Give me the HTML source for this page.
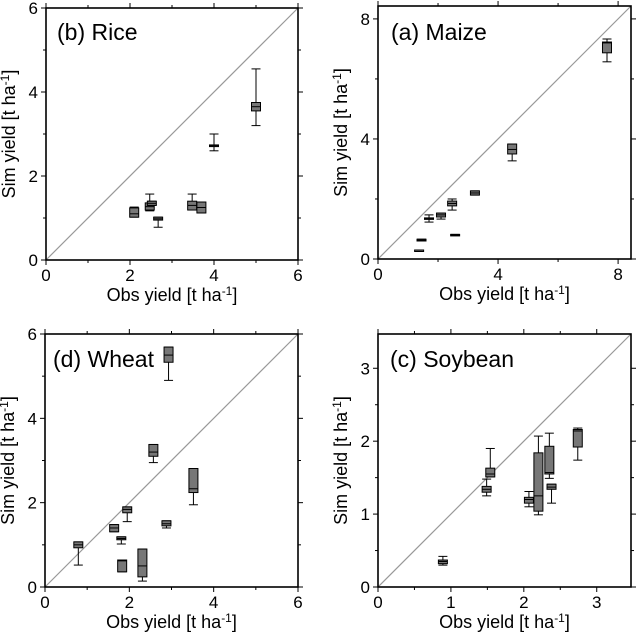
<!DOCTYPE html>
<html><head><meta charset="utf-8"><style>
body{margin:0;background:#fff}
svg{display:block;font-family:"Liberation Sans",sans-serif}
</style></head><body>
<svg id="c" width="638" height="640"></svg>
<script>
// [whiskerLow, q1, median, q3, whiskerHigh] per observation
const riceObs=[2.1,2.47,2.52,2.67,3.48,3.7,4.0,5.0];
const riceStats=[[1.02,1.02,1.1,1.24,1.26],[1.17,1.19,1.27,1.36,1.57],[1.3,1.3,1.35,1.4,1.4],[0.78,0.95,0.98,1.02,1.02],[1.19,1.19,1.3,1.4,1.57],[1.12,1.12,1.25,1.38,1.38],[2.6,2.7,2.72,2.74,3.0],[3.2,3.55,3.65,3.75,4.55]];
const maizeObs=[1.37,1.45,1.7,2.1,2.47,2.57,3.23,4.47,7.63];
const maizeStats=[[0.3,0.3,0.3,0.3,0.3],[0.6,0.6,0.63,0.66,0.66],[1.23,1.33,1.35,1.37,1.47],[1.33,1.4,1.47,1.53,1.53],[1.63,1.77,1.85,1.93,2.0],[0.78,0.78,0.8,0.82,0.82],[2.13,2.13,2.2,2.27,2.27],[3.27,3.5,3.65,3.83,3.83],[6.57,6.87,7.2,7.23,7.33]];
const wheatObs=[0.79,1.64,1.81,1.83,1.95,2.31,2.57,2.88,2.93,3.52];
const wheatStats=[[0.52,0.93,1.0,1.07,1.07],[1.31,1.31,1.4,1.48,1.48],[1.02,1.12,1.15,1.19,1.19],[0.36,0.36,0.62,0.64,0.64],[1.55,1.76,1.84,1.9,1.9],[0.14,0.24,0.5,0.9,0.9],[2.95,3.1,3.2,3.38,3.38],[1.4,1.45,1.5,1.57,1.57],[4.9,5.33,5.5,5.69,5.69],[1.95,2.24,2.33,2.81,2.81]];
const soyObs=[0.89,1.49,1.54,2.07,2.2,2.35,2.38,2.74];
const soyStats=[[0.3,0.32,0.35,0.37,0.42],[1.25,1.3,1.34,1.38,1.48],[1.51,1.51,1.55,1.63,1.9],[1.1,1.15,1.2,1.23,1.31],[0.99,1.04,1.25,1.84,2.07],[1.49,1.55,1.57,1.93,2.11],[1.15,1.34,1.37,1.41,1.41],[1.74,1.92,2.14,2.16,2.18]];

const svg=document.getElementById('c');const NS='http://www.w3.org/2000/svg';
function mk(t,a,p){const e=document.createElementNS(NS,t);for(const k in a)e.setAttribute(k,a[k]);(p||svg).appendChild(e);return e;}
const panels=[
 {name:'rice',title:'(b) Rice',x0:46,y0:260,sz:252,max:6,major:[0,2,4,6],minor:[1,3,5],obs:riceObs,st:riceStats,tx:57,ty:40},
 {name:'maize',title:'(a) Maize',x0:378,y0:259,sz:253,max:8.43,major:[0,4,8],minor:[2,6],obs:maizeObs,st:maizeStats,tx:391,ty:40},
 {name:'wheat',title:'(d) Wheat',x0:45,y0:587,sz:253,max:6,major:[0,2,4,6],minor:[1,3,5],obs:wheatObs,st:wheatStats,tx:53,ty:367},
 {name:'soybean',title:'(c) Soybean',x0:378,y0:587,sz:253,max:3.47,major:[0,1,2,3],minor:[0.5,1.5,2.5],obs:soyObs,st:soyStats,tx:390,ty:367}];
panels.forEach(p=>{
 const g=mk('g',{});
 
 
 const X=v=>p.x0+v/p.max*p.sz, Y=v=>p.y0-v/p.max*p.sz;
 const L=p.x0,R=p.x0+p.sz,T=p.y0-p.sz,B=p.y0;
 const d=mk('line',{x1:L,y1:B,x2:R,y2:T,stroke:'#999','stroke-width':1.2},g);
 
 
 p.obs.forEach((o,i)=>{const s=p.st[i];const cx=X(o),w=4.5;
  const b=mk('g',{},g);
  
  
  mk('line',{x1:cx,x2:cx,y1:Y(s[0]),y2:Y(s[4]),stroke:'#000','stroke-width':1},b);
  mk('line',{x1:cx-w,x2:cx+w,y1:Y(s[0]),y2:Y(s[0]),stroke:'#000','stroke-width':1},b);
  mk('line',{x1:cx-w,x2:cx+w,y1:Y(s[4]),y2:Y(s[4]),stroke:'#000','stroke-width':1},b);
  const h=Math.max(Y(s[1])-Y(s[3]),1.5);
  mk('rect',{x:cx-w,y:Y(s[3]),width:2*w,height:h,fill:'#777',stroke:'#000','stroke-width':1},b);
  mk('line',{x1:cx-w,x2:cx+w,y1:Y(s[2]),y2:Y(s[2]),stroke:'#000','stroke-width':1},b);
 });
 mk('rect',{x:L,y:T,width:p.sz,height:p.sz,fill:'none',stroke:'#000','stroke-width':1.6},g);
 p.major.concat(p.minor).forEach(v=>{const len=p.major.includes(v)?5:3;
  mk('line',{x1:X(v),x2:X(v),y1:B,y2:B+len,stroke:'#000'},g);
  mk('line',{x1:X(v),x2:X(v),y1:T,y2:T-len,stroke:'#000'},g);
  mk('line',{x1:L,x2:L-len,y1:Y(v),y2:Y(v),stroke:'#000'},g);
  mk('line',{x1:R,x2:R+len,y1:Y(v),y2:Y(v),stroke:'#000'},g);});
 p.major.forEach(v=>{
  const a=mk('text',{x:X(v),y:B+21,'font-size':17,'text-anchor':'middle'},g);a.textContent=v;
  
  
  const b=mk('text',{x:L-8,y:Y(v)+6,'font-size':17,'text-anchor':'end'},g);b.textContent=v;
  
  });
 const t=mk('text',{x:p.tx,y:p.ty,'font-size':23},g);t.textContent=p.title;
 
 
 const xt=mk('text',{x:(L+R)/2,y:B+41,'font-size':18,'text-anchor':'middle'},g);
 xt.innerHTML='Obs yield [t ha<tspan dy="-6" font-size="12">-1</tspan><tspan dy="6">]</tspan>';
 
 
 const yx=L-31,yy=(T+B)/2;
 const yt=mk('text',{x:yx,y:yy,'font-size':18,'text-anchor':'middle',transform:`rotate(-90 ${yx} ${yy})`},g);
 yt.innerHTML='Sim yield [t ha<tspan dy="-6" font-size="12">-1</tspan><tspan dy="6">]</tspan>';
 
 
});
</script></body></html>
